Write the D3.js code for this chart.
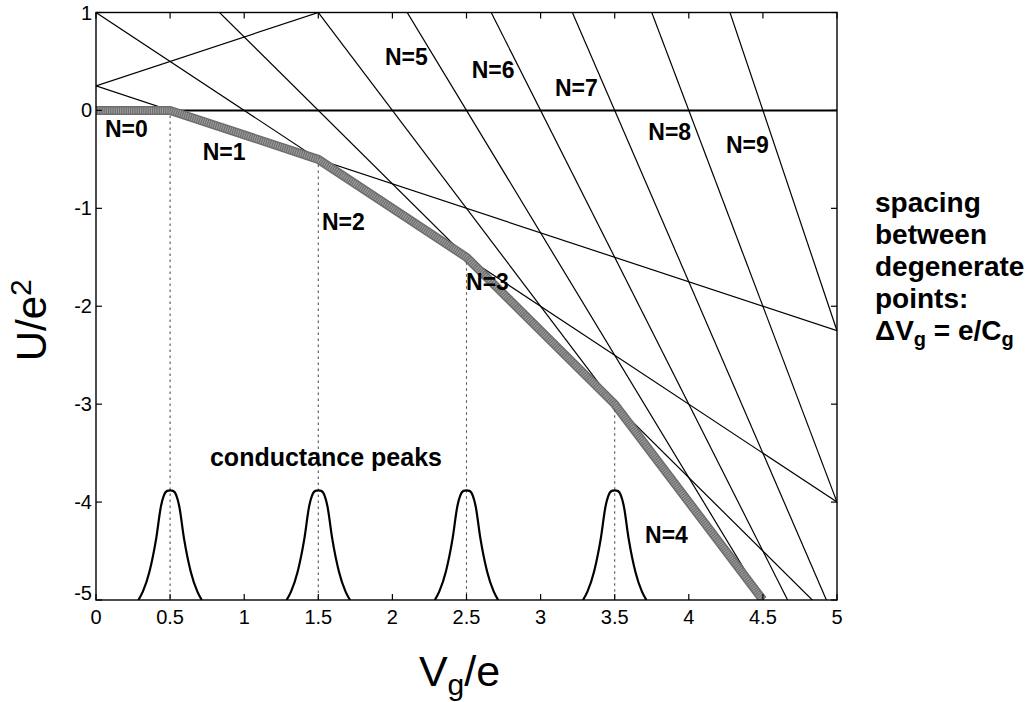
<!DOCTYPE html>
<html>
<head>
<meta charset="utf-8">
<script src="https://cdn.jsdelivr.net/npm/d3@7"></script>
<style>
  html, body { margin: 0; padding: 0; background: #fff; }
  svg { display: block; }
  text { font-family: "Liberation Sans", Arial, Helvetica, sans-serif; fill: #000; }
</style>
</head>
<body>
<svg id="chart" width="1034" height="702"></svg>
<script>
// Charging energy lines U_N(Vg) = intercept + slope * Vg, one per electron number N
const chargeStates   = [-1, 0, 1, 2, 3, 4, 5, 6, 7, 8, 9];
const lineIntercepts = [0.25, 0, 0.25, 1, 2.25, 4, 6.25, 9, 12.25, 16, 20.25];
const lineSlopes     = [0.5, 0, -0.5, -1, -1.5, -2, -2.5, -3, -3.5, -4, -4.5];

// Gate voltages where the ground state changes (the envelope's corners)
const envelopeVg   = [0, 0.5, 1.5, 2.5, 3.5, 4.5];
const degeneracyVg = [0.5, 1.5, 2.5, 3.5];

// Conductance peak shape: offset from the peak centre and height fraction
const peakCenters   = [0.5, 1.5, 2.5, 3.5];
const peakBase      = -5;
const peakHeight    = 1.12;
const peakOffsets   = [-0.214, -0.184, -0.139, -0.094, -0.061, -0.043, -0.02, 0, 0.02, 0.043, 0.061, 0.094, 0.139, 0.184, 0.214];
const peakFractions = [0, 0.076, 0.26, 0.56, 0.86, 0.95, 0.995, 1, 0.995, 0.95, 0.86, 0.56, 0.26, 0.076, 0];

// Axis ticks
const xTicks = [0, 0.5, 1, 1.5, 2, 2.5, 3, 3.5, 4, 4.5, 5];
const xTickLabels = ["0", "0.5", "1", "1.5", "2", "2.5", "3", "3.5", "4", "4.5", "5"];
const yTicks = [-5, -4, -3, -2, -1, 0, 1];
const yTickLabels = ["-5", "-4", "-3", "-2", "-1", "0", "1"];

// Labels of each charge-state line, anchored in data units (Vg, U)
const stateLabels = ["N=0", "N=1", "N=2", "N=3", "N=4", "N=5", "N=6", "N=7", "N=8", "N=9"];
const stateLabelVg = [0.06, 0.72, 1.525, 2.497, 3.705, 1.95, 2.535, 3.097, 3.727, 4.251];
const stateLabelU  = [-0.27, -0.51, -1.22, -1.83, -4.42, 0.46, 0.33, 0.15, -0.30, -0.435];

const sideNote = ["spacing", "between", "degenerate", "points:"];

const svg = d3.select("#chart");
const plot = { left: 96, right: 837, top: 12.5, bottom: 600 };

const x = d3.scaleLinear().domain([0, 5]).range([plot.left, plot.right]);
const y = d3.scaleLinear().domain([-5, 1]).range([plot.bottom, plot.top]);

svg.append("defs").append("clipPath").attr("id", "plot-clip")
  .append("rect")
  .attr("x", plot.left).attr("y", plot.top)
  .attr("width", plot.right - plot.left).attr("height", plot.bottom - plot.top);

const lineGen = d3.line().x(d => x(d[0])).y(d => y(d[1]));

// Charge-state energy lines
const lines = chargeStates.map((n, i) => ({
  n, a: lineIntercepts[i], b: lineSlopes[i]
}));

const gLines = svg.append("g").attr("clip-path", "url(#plot-clip)");
gLines.selectAll("path.state")
  .data(lines)
  .enter().append("path")
  .attr("class", "state")
  .attr("d", d => lineGen([[0, d.a], [5, d.a + d.b * 5]]))
  .attr("fill", "none")
  .attr("stroke", "#000")
  .attr("stroke-width", d => d.n === 0 ? 2 : 1.2);

// Ground-state envelope: lowest line at each corner point
const energyAt = v => d3.min(lines, l => l.a + l.b * v);
const envelope = envelopeVg.map(v => [v, energyAt(v)]);

gLines.append("path")
  .attr("d", lineGen(envelope))
  .attr("fill", "none")
  .attr("stroke", "#6e6e6e")
  .attr("stroke-width", 9)
  .attr("stroke-linejoin", "round");
gLines.append("path")
  .attr("d", lineGen(envelope))
  .attr("fill", "none")
  .attr("stroke", "#a0a0a0")
  .attr("stroke-width", 6)
  .attr("stroke-dasharray", "1,1.2")
  .attr("stroke-linejoin", "round");

// Dotted drop lines from the degeneracy points
gLines.selectAll("line.drop")
  .data(degeneracyVg)
  .enter().append("line")
  .attr("class", "drop")
  .attr("x1", d => x(d)).attr("x2", d => x(d))
  .attr("y1", d => y(energyAt(d)) + 5)
  .attr("y2", y(-5))
  .attr("stroke", "#555")
  .attr("stroke-width", 1.1)
  .attr("stroke-dasharray", "2.5,3.5");

// Conductance peaks
const peakLine = d3.line()
  .x(d => x(d[0])).y(d => y(d[1]))
  .curve(d3.curveMonotoneX);
gLines.selectAll("path.peak")
  .data(peakCenters)
  .enter().append("path")
  .attr("class", "peak")
  .attr("d", c => peakLine(peakOffsets.map((o, i) => [c + o, peakBase + peakHeight * peakFractions[i]])))
  .attr("fill", "none")
  .attr("stroke", "#000")
  .attr("stroke-width", 2.2);

// Frame and inward ticks
svg.append("rect")
  .attr("x", plot.left).attr("y", plot.top)
  .attr("width", plot.right - plot.left).attr("height", plot.bottom - plot.top)
  .attr("fill", "none").attr("stroke", "#000").attr("stroke-width", 1.4);

const tickLen = 6;
const gTicks = svg.append("g").attr("stroke", "#000").attr("stroke-width", 1.2);
xTicks.forEach(t => {
  gTicks.append("line").attr("x1", x(t)).attr("x2", x(t)).attr("y1", plot.bottom).attr("y2", plot.bottom - tickLen);
  gTicks.append("line").attr("x1", x(t)).attr("x2", x(t)).attr("y1", plot.top).attr("y2", plot.top + tickLen);
});
yTicks.forEach(t => {
  gTicks.append("line").attr("x1", plot.left).attr("x2", plot.left + tickLen).attr("y1", y(t)).attr("y2", y(t));
  gTicks.append("line").attr("x1", plot.right).attr("x2", plot.right - tickLen).attr("y1", y(t)).attr("y2", y(t));
});

// Tick labels
svg.append("g").selectAll("text")
  .data(xTicks)
  .enter().append("text")
  .attr("x", d => x(d))
  .attr("y", plot.bottom + 24)
  .attr("text-anchor", "middle")
  .attr("font-size", 20)
  .text((d, i) => xTickLabels[i]);

svg.append("g").selectAll("text")
  .data(yTicks)
  .enter().append("text")
  .attr("x", plot.left - 4)
  .attr("y", d => y(d) + (d === -5 ? 0 : 7))
  .attr("text-anchor", "end")
  .attr("font-size", 20)
  .text((d, i) => yTickLabels[i]);

// Axis titles
const yTitle = svg.append("text")
  .attr("transform", `translate(46,${(plot.top + plot.bottom) / 2 + 14}) rotate(-90)`)
  .attr("text-anchor", "middle")
  .attr("font-size", 42);
yTitle.append("tspan").text("U/e");
yTitle.append("tspan").attr("font-size", 30).attr("dy", -15).text("2");

const xTitle = svg.append("text")
  .attr("x", (plot.left + plot.right) / 2 - 7)
  .attr("y", 686)
  .attr("text-anchor", "middle")
  .attr("font-size", 43);
xTitle.append("tspan").text("V");
xTitle.append("tspan").attr("font-size", 30).attr("dy", 9).text("g");
xTitle.append("tspan").attr("dy", -9).text("/e");

// Charge-state labels
svg.append("g").selectAll("text")
  .data(stateLabels)
  .enter().append("text")
  .attr("x", (d, i) => x(stateLabelVg[i]))
  .attr("y", (d, i) => y(stateLabelU[i]))
  .attr("font-size", 23)
  .attr("font-weight", "bold")
  .text(d => d);

svg.append("text")
  .attr("x", x(0.769))
  .attr("y", y(-3.63))
  .attr("font-size", 25)
  .attr("font-weight", "bold")
  .text("conductance peaks");

// Side note on the degeneracy spacing
const noteX = 875;
svg.append("g").selectAll("text")
  .data(sideNote)
  .enter().append("text")
  .attr("x", noteX)
  .attr("y", (d, i) => 212 + i * 32)
  .attr("font-size", 28)
  .attr("font-weight", "bold")
  .text(d => d);

const formula = svg.append("text")
  .attr("x", noteX)
  .attr("y", 212 + 4 * 32)
  .attr("font-size", 28)
  .attr("font-weight", "bold");
formula.append("tspan").text("\u0394V");
formula.append("tspan").attr("font-size", 20).attr("dy", 6).text("g");
formula.append("tspan").attr("dy", -6).text(" = e/C");
formula.append("tspan").attr("font-size", 20).attr("dy", 6).text("g");
</script>
</body>
</html>
